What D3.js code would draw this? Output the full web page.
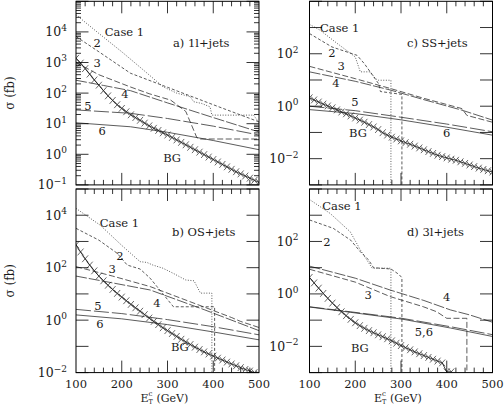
<!DOCTYPE html>
<html><head><meta charset="utf-8">
<script src="https://cdn.jsdelivr.net/npm/d3@7"></script>
<style>
body{margin:0;background:#fff}
svg{display:block}
text{font-family:"DejaVu Serif","Liberation Serif",serif;fill:#1a1a1a}
</style>
</head><body>
<svg id="chart" width="504" height="406"></svg>
<script>
// ---- DATA: values are log10(sigma / fb) versus E_T^c cut (GeV) ----
// value -9 marks where the curve falls to zero (drawn as a vertical drop)
const bgEt = [100,110,120,130,140,150,160,170,180,190,200,210,220,230,240,250,260,270,280,290,300,
              310,320,330,340,350,360,370,380,390,400,410,420,430,440,450,460,470,480,490,500];

// a) 1l+jets
const aCase1 = [[100,4.56],[150,3.95],[200,3.35],[250,2.72],[290,2.21],[320,2.0],[350,1.88],[357,1.72],[375,1.66],[393,1.55],[397,1.28],[488,1.28],[500,1.04]];
const aCase2 = [[100,3.85],[150,3.35],[219,2.65],[300,2.19],[400,1.62],[500,1.06]];
const aCase3 = [[100,3.0],[150,2.6],[219,2.2],[260,1.98],[307,1.77],[340,1.4],[364,0.55],[372,0.5],[500,0.5]];
const aCase4 = [[100,2.42],[160,2.25],[219,2.08],[300,1.68],[400,1.2],[500,0.73]];
const aCase5 = [[100,1.45],[219,1.34],[300,1.17],[400,0.92],[500,0.63]];
const aCase6 = [[100,1.03],[219,0.9],[300,0.72],[400,0.45],[500,0.15]];
const aBG = [3.14,2.98,2.80,2.62,2.43,2.26,2.08,1.91,1.76,1.62,1.50,1.39,1.29,1.20,1.11,1.02,0.93,0.85,0.78,0.70,0.63,
             0.55,0.47,0.39,0.31,0.23,0.15,0.07,-0.01,-0.09,-0.17,-0.25,-0.33,-0.41,-0.49,-0.57,-0.64,-0.71,-0.78,-0.85,-0.92];

// b) OS+jets
const bCase1 = [[100,4.26],[153,3.62],[200,2.85],[240,2.23],[255,2.2],[268,2.1],[290,1.98],[312,1.79],[340,1.53],[358,1.5],[372,1.03],[397,1.03],[397,-9]];
const bCase2 = [[100,3.5],[150,3.05],[190,2.55],[212,2.1],[240,1.95],[262,1.6],[277,1.28],[313,0.51],[403,0.51],[403,-9]];
const bCase3 = [[100,2.04],[180,1.68],[262,1.28],[380,0.5],[440,0.1],[460,-0.05],[500,-0.28]];
const bCase4 = [[100,1.68],[180,1.42],[262,1.15],[380,0.4],[500,-0.4]];
const bCase5 = [[100,0.41],[200,0.25],[300,0.02],[400,-0.25],[500,-0.56]];
const bCase6 = [[100,0.2],[200,0.05],[300,-0.17],[400,-0.45],[500,-0.75]];
const bBG = [2.87,2.60,2.34,2.10,1.88,1.68,1.50,1.33,1.17,1.02,0.88,0.74,0.60,0.47,0.34,0.21,0.08,-0.05,-0.17,-0.29,-0.40,
             -0.51,-0.62,-0.73,-0.83,-0.93,-1.03,-1.12,-1.21,-1.29,-1.37,-1.45,-1.52,-1.60,-1.67,-1.74,-1.81,-1.88,-1.94,-2.0,-2.06];

// c) SS+jets
const cCase1 = [[100,3.12],[123,2.9],[160,2.4],[200,1.88],[211,1.31],[233,1.31],[244,1.05],[251,0.99],[278,0.99],[278,-9]];
const cCase2 = [[100,2.77],[149,2.26],[204,1.94],[220,1.62],[251,0.86],[255,0.56],[302,0.45],[302,-9]];
const cCase3 = [[100,1.52],[200,1.05],[276,0.68],[350,0.3],[433,-0.09],[444,-0.35],[502,-0.62]];
const cCase4 = [[100,1.31],[200,0.95],[276,0.62],[350,0.25],[433,-0.15],[502,-0.54]];
const cCase5 = [[100,0.0],[200,-0.17],[300,-0.42],[400,-0.68],[502,-0.98]];
const cCase6 = [[100,-0.13],[200,-0.28],[300,-0.52],[400,-0.8],[502,-1.11]];
const cBG = [0.32,0.24,0.16,0.08,0.01,-0.06,-0.14,-0.22,-0.29,-0.37,-0.45,-0.53,-0.61,-0.70,-0.79,-0.89,-1.01,-1.10,-1.18,-1.25,-1.32,
             -1.39,-1.45,-1.52,-1.59,-1.66,-1.73,-1.80,-1.87,-1.92,-1.97,-2.02,-2.06,-2.12,-2.18,-2.24,-2.30,-2.36,-2.41,-2.46,-2.51];

// d) 3l+jets
const dCase1 = [[100,3.6],[145,3.07],[189,2.37],[211,1.68],[237,0.98],[278,0.98],[278,-9]];
const dCase2 = [[100,2.82],[152,2.5],[190,2.05],[211,1.61],[229,1.3],[240,1.0],[278,0.95],[295,0.75],[302,0.62],[302,-9]];
const dCase3 = [[100,0.94],[200,0.45],[276,-0.1],[349,-0.49],[378,-0.68],[400,-0.93],[444,-0.93],[444,-9]];
const dCase4 = [[100,1.06],[200,0.6],[276,0.15],[350,-0.25],[408,-0.61],[450,-0.8],[502,-1.09]];
const dCase5 = [[100,-0.49],[189,-0.68],[302,-0.93],[408,-1.25],[502,-1.56]];
const dCase6 = [[100,-0.5],[189,-0.7],[302,-0.96],[408,-1.3],[502,-1.63]];
const dBG = [0.63,0.42,0.22,0.02,-0.17,-0.35,-0.52,-0.68,-0.83,-0.97,-1.10,-1.21,-1.31,-1.40,-1.48,-1.56,-1.63,-1.71,-1.79,-1.88,-1.97,
             -2.05,-2.13,-2.21,-2.28,-2.35,-2.42,-2.49,-2.56,-2.63,-2.97,-2.97];

// tick labels
const xTickLabels = ["100","200","300","400","500"];
const yLabA = [-1,0,1,2,3,4];
const yLabC = [-2,0,2];
const yLabB = [-2,0,2,4];
const yLabD = [-2,0,2];

// in-plot labels: [text, E, log10 sigma, anchor]
const labA = [["Case 1",163,3.87,"start"],["a) 1l+jets",312,3.51,"start"],["2",146,3.51,"middle"],["3",146,2.86,"middle"],
              ["4",207,1.84,"middle"],["5",126,1.45,"middle"],["6",157,0.63,"middle"],["BG",310,-0.25,"middle"]];
const labB = [["Case 1",152,3.55,"start"],["b) OS+jets",310,3.21,"start"],["2",196,2.29,"middle"],["3",179,1.80,"middle"],
              ["4",277,0.50,"middle"],["5",148,0.38,"middle"],["6",152,-0.30,"middle"],["BG",327,-1.18,"middle"]];
const labC = [["Case 1",123,2.84,"start"],["c) SS+jets",313,2.26,"start"],["2",149,1.88,"middle"],["3",169,1.39,"middle"],
              ["4",158,0.74,"middle"],["5",199,0.01,"middle"],["BG",206,-1.17,"middle"],["6",400,-1.17,"middle"]];
const labD = [["Case 1",128,3.2,"start"],["d) 3l+jets",313,2.21,"start"],["2",138,1.83,"middle"],["3",228,-0.2,"middle"],
              ["4",400,-0.27,"middle"],["5,6",350,-1.61,"middle"],["BG",210,-2.22,"middle"]];

// ---- LAYOUT ----
const W = 183, H = 183.6;
const dashes = ["1,1.6","3,2","6,2.5","11,2","15,3",null];
const panels = [
  {x0:76,   y0:1.3, lo:-1, hi:5, minor:true,  ylab:yLabA, cases:[aCase1,aCase2,aCase3,aCase4,aCase5,aCase6], bg:aBG, labels:labA, bottom:false, left:true},
  {x0:309.5,y0:1.3, lo:-3, hi:4, minor:false, ylab:yLabC, cases:[cCase1,cCase2,cCase3,cCase4,cCase5,cCase6], bg:cBG, labels:labC, bottom:false, left:false},
  {x0:76,   y0:189, lo:-2, hi:5, minor:false, ylab:yLabB, cases:[bCase1,bCase2,bCase3,bCase4,bCase5,bCase6], bg:bBG, labels:labB, bottom:true, left:true},
  {x0:309.5,y0:189, lo:-3, hi:4, minor:false, ylab:yLabD, cases:[dCase1,dCase2,dCase3,dCase4,dCase5,dCase6], bg:dBG, labels:labD, bottom:true, left:false}
];

const svg = d3.select("#chart");
const ink = "#262626";

panels.forEach((p, i) => {
  const g = svg.append("g").attr("transform", `translate(${p.x0},${p.y0})`);
  const x = d3.scaleLinear().domain([100, 500]).range([0, W]);
  const y = d3.scaleLog().domain([Math.pow(10, p.lo), Math.pow(10, p.hi)]).range([H, 0]);
  const yv = v => y(Math.pow(10, v));

  g.append("clipPath").attr("id", "clip" + i).append("rect").attr("width", W).attr("height", H);
  const plot = g.append("g").attr("clip-path", `url(#clip${i})`);
  const line = d3.line().x(d => x(d[0])).y(d => yv(d[1]));

  p.cases.forEach((c, k) => {
    plot.append("path").attr("d", line(c)).attr("fill", "none")
      .attr("stroke", ink).attr("stroke-width", 0.75)
      .attr("stroke-dasharray", dashes[k]);
  });

  const bgPts = p.bg.map((v, j) => [bgEt[j], v]);
  plot.append("path").attr("d", line(bgPts)).attr("fill", "none").attr("stroke", ink).attr("stroke-width", 0.9);
  plot.selectAll("path.m").data(bgPts).join("path").attr("class", "m")
    .attr("transform", d => `translate(${x(d[0])},${yv(d[1])})`)
    .attr("d", "M-3,-3.4L3,3.4M-3,3.4L3,-3.4")
    .attr("stroke", ink).attr("stroke-width", 0.7).attr("fill", "none");

  // labels inside the panel
  p.labels.forEach(l => {
    g.append("text").attr("x", x(l[1])).attr("y", yv(l[2]))
      .attr("text-anchor", l[3]).attr("font-size", 11.5).text(l[0]);
  });

  // frame
  g.append("rect").attr("width", W).attr("height", H).attr("fill", "none")
    .attr("stroke", "#000").attr("stroke-width", 1);

  // x ticks (top & bottom, inward)
  const tk = g.append("g").attr("stroke", "#000").attr("stroke-width", 0.8);
  d3.range(120, 500, 20).forEach(e => {
    const len = (e % 100 === 0) ? 12 : 5;
    tk.append("line").attr("x1", x(e)).attr("x2", x(e)).attr("y1", H).attr("y2", H - len);
    tk.append("line").attr("x1", x(e)).attr("x2", x(e)).attr("y1", 0).attr("y2", len);
  });
  // y ticks (left & right)
  for (let k = p.lo; k <= p.hi; k++) {
    const yy = yv(k);
    tk.append("line").attr("x1", 0).attr("x2", 12.5).attr("y1", yy).attr("y2", yy);
    tk.append("line").attr("x1", W).attr("x2", W - 12.5).attr("y1", yy).attr("y2", yy);
    if (p.minor && k < p.hi) {
      for (let m = 2; m <= 9; m++) {
        const ym = y(m * Math.pow(10, k));
        tk.append("line").attr("x1", 0).attr("x2", 5).attr("y1", ym).attr("y2", ym);
        tk.append("line").attr("x1", W).attr("x2", W - 5).attr("y1", ym).attr("y2", ym);
      }
    }
  }

  // y tick labels
  p.ylab.forEach(k => {
    const t = g.append("text").attr("x", p.left ? -9 : -11).attr("y", yv(k) + 4.5)
      .attr("text-anchor", "end").attr("font-size", 12.5);
    t.append("tspan").text("10");
    t.append("tspan").attr("dy", -5.5).attr("font-size", 9).text(k < 0 ? "\u2212" + (-k) : String(k));
  });

  // x tick labels & title
  if (p.bottom) {
    xTickLabels.forEach(s => {
      g.append("text").attr("x", x(+s)).attr("y", H + 15.5).attr("text-anchor", "middle")
        .attr("font-size", 11.5).text(s);
    });
    const t = g.append("text").attr("x", W / 2 - 27).attr("y", H + 29).attr("font-size", 11);
    t.append("tspan").text("E");
    t.append("tspan").attr("dy", -5.5).attr("font-size", 7).text("c");
    t.append("tspan").attr("dx", -3.9).attr("dy", 8).attr("font-size", 6.5).text("T");
    t.append("tspan").attr("dy", -2.5).text(" (GeV)");
  }
  if (p.left) {
    g.append("text").attr("transform", `translate(${14 - p.x0},${H / 2}) rotate(-90)`)
      .attr("text-anchor", "middle").attr("font-size", 12).text("\u03c3 (fb)");
  }
});
</script>
</body></html>
